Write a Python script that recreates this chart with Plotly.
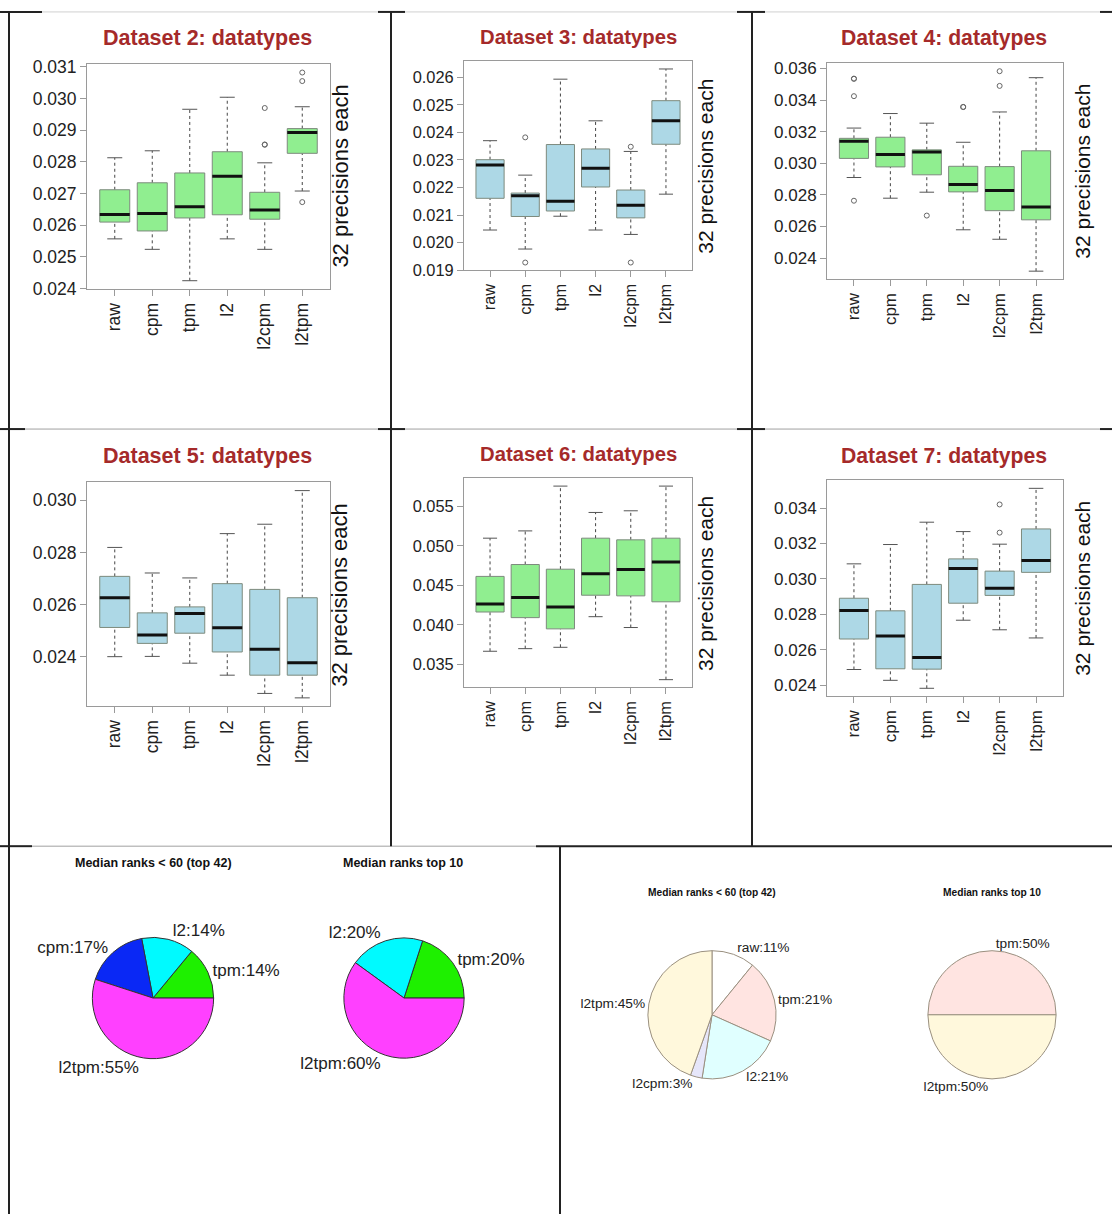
import plotly.graph_objects as go

W, H = 1112, 1224
FONT = "Liberation Sans, Arial, sans-serif"

# ---- data ------------------------------------------------------------------
categories = ["raw", "cpm", "tpm", "l2", "l2cpm", "l2tpm"]

# Dataset 2
D2_LOW = [0.02557, 0.02524, 0.02425, 0.02557, 0.02524, 0.02708]
D2_Q1 = [0.02610, 0.02582, 0.02623, 0.02633, 0.02619, 0.02827]
D2_MED = [0.02634, 0.02637, 0.02658, 0.02755, 0.02648, 0.02893]
D2_Q3 = [0.02712, 0.02734, 0.02765, 0.02832, 0.02704, 0.02905]
D2_HIGH = [0.02813, 0.02835, 0.02966, 0.03004, 0.02797, 0.02974]
D2_OUT_CAT = ["l2cpm", "l2cpm", "l2cpm", "l2tpm", "l2tpm", "l2tpm"]
D2_OUT_VAL = [0.02854, 0.02855, 0.02970, 0.02673, 0.03055, 0.03082]

# Dataset 3
D3_LOW = [0.02046, 0.01977, 0.02096, 0.02046, 0.02030, 0.02176]
D3_Q1 = [0.02161, 0.02095, 0.02115, 0.02202, 0.02090, 0.02357]
D3_MED = [0.02282, 0.02170, 0.02150, 0.02270, 0.02136, 0.02442]
D3_Q3 = [0.02301, 0.02180, 0.02356, 0.02340, 0.02191, 0.02515]
D3_HIGH = [0.02370, 0.02245, 0.02593, 0.02442, 0.02331, 0.02630]
D3_OUT_CAT = ["cpm", "cpm", "l2cpm", "l2cpm"]
D3_OUT_VAL = [0.02382, 0.01928, 0.02348, 0.01928]

# Dataset 4
D4_LOW = [0.02910, 0.02779, 0.02817, 0.02579, 0.02519, 0.02317]
D4_Q1 = [0.03031, 0.02977, 0.02927, 0.02819, 0.02700, 0.02642]
D4_MED = [0.03140, 0.03056, 0.03071, 0.02865, 0.02827, 0.02723]
D4_Q3 = [0.03158, 0.03165, 0.03085, 0.02981, 0.02979, 0.03079]
D4_HIGH = [0.03223, 0.03315, 0.03254, 0.03133, 0.03325, 0.03542]
D4_OUT_CAT = ["raw", "raw", "raw", "raw", "tpm", "l2", "l2", "l2cpm", "l2cpm"]
D4_OUT_VAL = [0.03535, 0.03536, 0.03425, 0.02763, 0.02669,
              0.03356, 0.03357, 0.03583, 0.03490]

# Dataset 5
D5_LOW = [0.02400, 0.02401, 0.02375, 0.02329, 0.02259, 0.02242]
D5_Q1 = [0.02512, 0.02451, 0.02490, 0.02418, 0.02329, 0.02329]
D5_MED = [0.02626, 0.02483, 0.02566, 0.02511, 0.02428, 0.02377]
D5_Q3 = [0.02708, 0.02568, 0.02591, 0.02680, 0.02658, 0.02626]
D5_HIGH = [0.02819, 0.02721, 0.02702, 0.02872, 0.02908, 0.03037]
D5_OUT_CAT = []
D5_OUT_VAL = []

# Dataset 6
D6_LOW = [0.03667, 0.03700, 0.03717, 0.04104, 0.03967, 0.03308]
D6_Q1 = [0.04163, 0.04092, 0.03950, 0.04375, 0.04367, 0.04292]
D6_MED = [0.04263, 0.04346, 0.04225, 0.04646, 0.04700, 0.04796]
D6_Q3 = [0.04613, 0.04763, 0.04704, 0.05096, 0.05075, 0.05096]
D6_HIGH = [0.05096, 0.05188, 0.05754, 0.05421, 0.05442, 0.05754]
D6_OUT_CAT = []
D6_OUT_VAL = []

# Dataset 7
D7_LOW = [0.02489, 0.02428, 0.02383, 0.02767, 0.02713, 0.02667]
D7_Q1 = [0.02661, 0.02493, 0.02491, 0.02863, 0.02907, 0.03037]
D7_MED = [0.02822, 0.02678, 0.02556, 0.03059, 0.02948, 0.03104]
D7_Q3 = [0.02891, 0.02820, 0.02969, 0.03113, 0.03044, 0.03282]
D7_HIGH = [0.03085, 0.03194, 0.03320, 0.03267, 0.03196, 0.03511]
D7_OUT_CAT = ["l2cpm", "l2cpm"]
D7_OUT_VAL = [0.03420, 0.03261]

# Pie charts: share of datatypes among best median ranks
PIE1_LABELS = ["tpm", "l2", "cpm", "l2tpm"]
PIE1_PCT = [14, 14, 17, 55]
PIE2_LABELS = ["tpm", "l2", "l2tpm"]
PIE2_PCT = [20, 20, 60]
PIE3_LABELS = ["raw", "tpm", "l2", "l2cpm", "l2tpm"]
PIE3_PCT = [11, 21, 21, 3, 45]
PIE4_LABELS = ["tpm", "l2tpm"]
PIE4_PCT = [50, 50]

# ---- styling / layout helpers ----------------------------------------------
GREEN = "#90EE90"
BLUE = "#ADD8E6"
TITLE_RED = "#A52A2A"
FRAME = "#9a9a9a"


def xp(px):
    return px / W


def yp(py):
    return 1 - py / H


panels = [
    dict(name="Dataset 2", low=D2_LOW, q1=D2_Q1, med=D2_MED, q3=D2_Q3, high=D2_HIGH,
         oc=D2_OUT_CAT, ov=D2_OUT_VAL, fill=GREEN, dtick=0.001,
         box=(87, 330, 58, 286), title=(207, 31, 21.5), side=(341, 172, 22), tick=17.5),
    dict(name="Dataset 3", low=D3_LOW, q1=D3_Q1, med=D3_MED, q3=D3_Q3, high=D3_HIGH,
         oc=D3_OUT_CAT, ov=D3_OUT_VAL, fill=BLUE, dtick=0.001,
         box=(464, 692, 55, 267), title=(578, 30, 20.3), side=(706, 162, 21), tick=16.4),
    dict(name="Dataset 4", low=D4_LOW, q1=D4_Q1, med=D4_MED, q3=D4_Q3, high=D4_HIGH,
         oc=D4_OUT_CAT, ov=D4_OUT_VAL, fill=GREEN, dtick=0.002,
         box=(827, 1063, 57, 276), title=(944, 31, 21.2), side=(1083, 167, 21), tick=17),
    dict(name="Dataset 5", low=D5_LOW, q1=D5_Q1, med=D5_MED, q3=D5_Q3, high=D5_HIGH,
         oc=D5_OUT_CAT, ov=D5_OUT_VAL, fill=BLUE, dtick=0.002,
         box=(87, 330, 482, 709), title=(207, 455, 21.5), side=(340, 597, 22), tick=17.5),
    dict(name="Dataset 6", low=D6_LOW, q1=D6_Q1, med=D6_MED, q3=D6_Q3, high=D6_HIGH,
         oc=D6_OUT_CAT, ov=D6_OUT_VAL, fill=GREEN, dtick=0.005,
         box=(464, 692, 478, 690), title=(578, 453, 20.3), side=(706, 585, 21), tick=16.4),
    dict(name="Dataset 7", low=D7_LOW, q1=D7_Q1, med=D7_MED, q3=D7_Q3, high=D7_HIGH,
         oc=D7_OUT_CAT, ov=D7_OUT_VAL, fill=BLUE, dtick=0.002,
         box=(827, 1063, 480, 699), title=(944, 455, 21.2), side=(1083, 590, 21), tick=17),
]

fig = go.Figure()
layout = dict(
    width=W, height=H, margin=dict(l=0, r=0, t=0, b=0),
    paper_bgcolor="white", plot_bgcolor="white", showlegend=False,
    font=dict(family=FONT, color="#222"),
)
annotations = []
xpos = list(range(1, len(categories) + 1))
BW = 0.4   # half box width
CW = 0.2   # half staple width

for i, p in enumerate(panels):
    n = "" if i == 0 else str(i + 1)
    xa, ya = "x" + n, "y" + n
    # whiskers (dashed), staples and median bars
    wx, wy, cx, cy, mx, my = [], [], [], [], [], []
    for k, xc in enumerate(xpos):
        wx += [xc, xc, None, xc, xc, None]
        wy += [p["low"][k], p["q1"][k], None, p["q3"][k], p["high"][k], None]
        cx += [xc - CW, xc + CW, None, xc - CW, xc + CW, None]
        cy += [p["low"][k], p["low"][k], None, p["high"][k], p["high"][k], None]
        mx += [xc - BW, xc + BW, None]
        my += [p["med"][k], p["med"][k], None]
    fig.add_trace(go.Scatter(x=wx, y=wy, mode="lines", xaxis=xa, yaxis=ya,
                             line=dict(color="#444", width=1, dash="3px,3px"),
                             hoverinfo="skip"))
    fig.add_trace(go.Scatter(x=cx, y=cy, mode="lines", xaxis=xa, yaxis=ya,
                             line=dict(color="#555", width=1), hoverinfo="skip"))
    for k, xc in enumerate(xpos):
        fig.add_trace(go.Scatter(
            x=[xc - BW, xc + BW, xc + BW, xc - BW, xc - BW],
            y=[p["q1"][k], p["q1"][k], p["q3"][k], p["q3"][k], p["q1"][k]],
            mode="lines", fill="toself", fillcolor=p["fill"],
            line=dict(color="#7d8a7d", width=1), xaxis=xa, yaxis=ya,
            name=categories[k]))
    fig.add_trace(go.Scatter(x=mx, y=my, mode="lines", xaxis=xa, yaxis=ya,
                             line=dict(color="#111", width=3), hoverinfo="skip"))
    if p["ov"]:
        ox = [xpos[categories.index(c)] for c in p["oc"]]
        fig.add_trace(go.Scatter(x=ox, y=p["ov"], mode="markers", xaxis=xa, yaxis=ya,
                                 marker=dict(symbol="circle-open", size=5, color="#666",
                                             line=dict(width=1))))

    allv = p["low"] + p["high"] + p["ov"]
    lo, hi = min(allv), max(allv)
    pad = 0.04 * (hi - lo)
    x0, x1, y0, y1 = p["box"]
    axis_common = dict(showgrid=False, zeroline=False, showline=True, mirror=True,
                       linecolor=FRAME, linewidth=1, ticks="outside", ticklen=6,
                       tickcolor=FRAME, tickfont=dict(size=p["tick"], color="#222", family=FONT))
    layout["xaxis" + n] = dict(axis_common, domain=[xp(x0), xp(x1)], anchor=ya,
                               range=[0.26, len(categories) + 0.74],
                               tickvals=xpos, ticktext=categories, tickangle=-90)
    layout["yaxis" + n] = dict(axis_common, domain=[yp(y1), yp(y0)], anchor=xa,
                               range=[lo - pad, hi + pad], dtick=p["dtick"], tick0=0,
                               tickformat=".3f")
    tx, ty, ts = p["title"]
    annotations.append(dict(x=xp(tx), y=yp(ty), xref="paper", yref="paper",
                            text=f"<b>{p['name']}: datatypes</b>", showarrow=False,
                            font=dict(size=ts, color=TITLE_RED, family=FONT),
                            xanchor="center", yanchor="middle"))
    sx, sy, ss = p["side"]
    annotations.append(dict(x=xp(sx), y=yp(sy), xref="paper", yref="paper",
                            text="32 precisions each", showarrow=False, textangle=-90,
                            font=dict(size=ss, color="#111", family=FONT),
                            xanchor="center", yanchor="middle"))

# ---- pies --------------------------------------------------------------------
# "ccw" pies start at 3 o'clock and run counter-clockwise; "cw" pies start at
# 12 o'clock and run clockwise.
pies = [
    dict(labels=PIE1_LABELS, vals=PIE1_PCT, c=(153, 1005), r=61.5,
         colors=["#1ef000", "#00faff", "#0a28f5", "#ff40ff"], edge="#333",
         mode="ccw", fs=17,
         title="Median ranks < 60 (top 42)", tpos=(153, 868), tfs=12.5),
    dict(labels=PIE2_LABELS, vals=PIE2_PCT, c=(404, 1005), r=61,
         colors=["#1ef000", "#00faff", "#ff40ff"], edge="#333",
         mode="ccw", fs=17,
         title="Median ranks top 10", tpos=(403, 868), tfs=12.5),
    dict(labels=PIE3_LABELS, vals=PIE3_PCT, c=(712, 1022), r=65,
         colors=["#FFFFFF", "#FFE4E1", "#E0FFFF", "#E6E6FA", "#FFF8DC"], edge="#9a9080",
         mode="cw", fs=13.7,
         title="Median ranks < 60 (top 42)", tpos=(712, 898), tfs=10.2),
    dict(labels=PIE4_LABELS, vals=PIE4_PCT, c=(992, 1022), r=65,
         colors=["#FFE4E1", "#FFF8DC"], edge="#9a9080",
         mode="ccw", fs=13.7,
         title="Median ranks top 10", tpos=(992, 898), tfs=10.2),
]
for pc in pies:
    cx, cy = pc["c"]
    r = pc["r"]
    if pc["mode"] == "ccw":
        # plotly anchors the far edge of the first ccw slice at `rotation`
        first = 360.0 * pc["vals"][0] / sum(pc["vals"])
        direction, rotation = "counterclockwise", 90 - first
    else:
        direction, rotation = "clockwise", 0
    fig.add_trace(go.Pie(
        labels=pc["labels"], values=pc["vals"], sort=False,
        direction=direction, rotation=rotation,
        text=[f"{l}:{v}%" for l, v in zip(pc["labels"], pc["vals"])],
        textinfo="text", textposition="outside",
        outsidetextfont=dict(size=pc["fs"], color="#222", family=FONT),
        marker=dict(colors=pc["colors"], line=dict(color=pc["edge"], width=1)),
        domain=dict(x=[xp(cx - r), xp(cx + r)], y=[yp(cy + r), yp(cy - r)]),
        hoverinfo="label+percent"))
    tx, ty = pc["tpos"]
    annotations.append(dict(x=xp(tx), y=yp(ty), xref="paper", yref="paper",
                            text=f"<b>{pc['title']}</b>", showarrow=False,
                            font=dict(size=pc["tfs"], color="#111", family=FONT),
                            xanchor="center", yanchor="middle"))

# ---- table rules around the panels ------------------------------------------
shapes = []


def rule(xa_, ya_, xb_, yb_, color, width):
    shapes.append(dict(type="line", xref="paper", yref="paper",
                       x0=xp(xa_), y0=yp(ya_), x1=xp(xb_), y1=yp(yb_),
                       line=dict(color=color, width=width)))


rule(0, 5, W, 5, "#d0d0d0", 1)
rule(0, 428, W, 428, "#a0a0a0", 1)
rule(32, 851, 536, 851, "#a0a0a0", 1)
for a, b in [(0, 42), (378, 405), (737, 765), (1100, 1112)]:
    rule(a, 5, b, 5, "#222", 2)
for a, b in [(0, 25), (378, 405), (737, 765), (1100, 1112)]:
    rule(a, 428, b, 428, "#222", 2)
rule(0, 851, 32, 851, "#222", 2)
rule(536, 851, W, 851, "#222", 2)
rule(9, 5, 9, H, "#222", 2)
rule(391, 5, 391, 851, "#222", 2)
rule(752, 5, 752, 851, "#222", 2)
rule(560, 851, 560, H, "#222", 2)

layout["annotations"] = annotations
layout["shapes"] = shapes
fig.update_layout(**layout)
fig.write_html("out.html")
